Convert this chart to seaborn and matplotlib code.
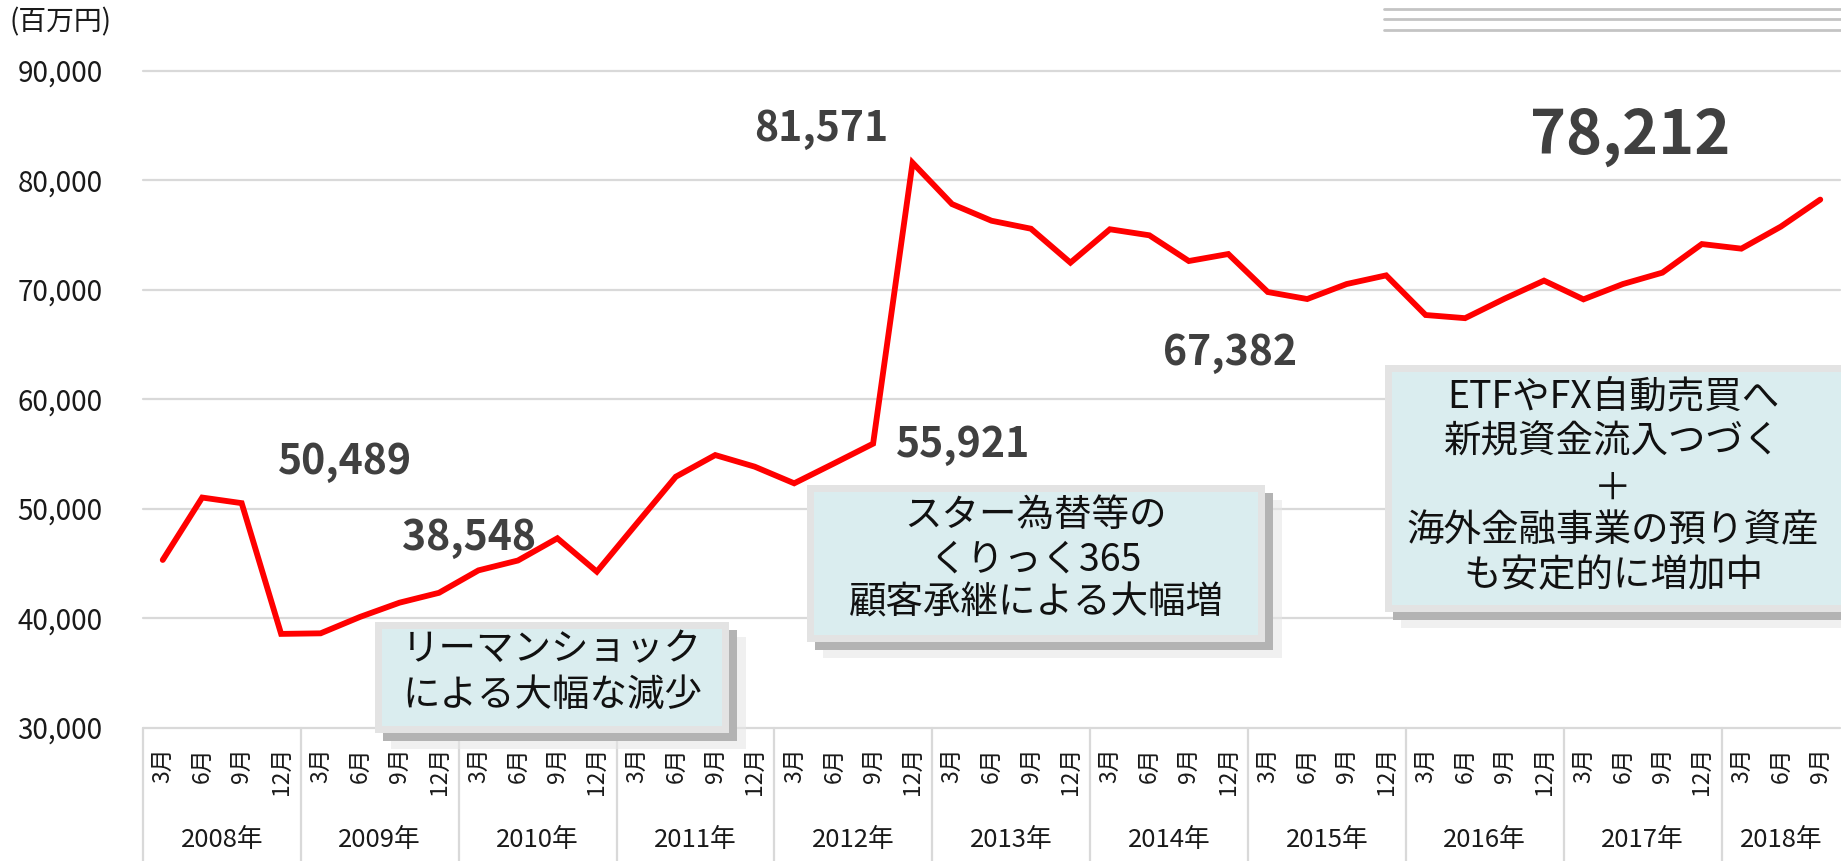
import numpy as np
import pandas as pd
import matplotlib
matplotlib.use("Agg")
import matplotlib.pyplot as plt
import matplotlib.transforms as mtransforms
from matplotlib.patches import Rectangle
from matplotlib.lines import Line2D
import seaborn as sns

# ---------------- data ----------------
years = ["2008年", "2009年", "2010年", "2011年", "2012年", "2013年",
         "2014年", "2015年", "2016年", "2017年", "2018年"]
months_per_year = [4, 4, 4, 4, 4, 4, 4, 4, 4, 4, 3]
month_names = ["3月", "6月", "9月", "12月"]
values = [45300, 51000, 50489, 38548,
          38600, 40100, 41400, 42300,
          44350, 45250, 47280, 44230,
          48580, 52900, 54880, 53820,
          52300, 54100, 55921, 81571,
          77800, 76280, 75550, 72450,
          75500, 74950, 72600, 73240,
          69770, 69130, 70500, 71290,
          67670, 67382, 69160, 70810,
          69100, 70500, 71540, 74150,
          73730, 75740, 78212]
labeled_idx = [2, 3, 18, 19, 33, 42]
y_ticks = [30000, 40000, 50000, 60000, 70000, 80000, 90000]
unit_label = "(百万円)"
notes = [
    ["リーマンショック", "による大幅な減少"],
    ["スター為替等の", "くりっく365", "顧客承継による大幅増"],
    ["ETFやFX自動売買へ", "新規資金流入つづく", "＋", "海外金融事業の預り資産", "も安定的に増加中"],
]

month_labels = []
year_of = []
for y, n in zip(years, months_per_year):
    month_labels += month_names[:n]
    year_of += [y] * n
df = pd.DataFrame({"pos": np.arange(len(values)), "value": values,
                   "month": month_labels, "year": year_of})

# ---------------- figure ----------------
W, H = 1841, 861
sns.set_theme(style="white")
plt.rcParams["font.family"] = ["Noto Sans CJK JP", "DejaVu Sans"]

fig = plt.figure(figsize=(W / 100, H / 100), dpi=100)
fig.patch.set_facecolor("white")

def fx(x):
    return x / W

def fy(y):
    return 1 - y / H

ax_left, ax_right, ax_top, ax_bot = 143, 1840, 70.5, 727.5
ax = fig.add_axes([fx(ax_left), fy(ax_bot), (ax_right - ax_left) / W, (ax_bot - ax_top) / H])
ax.set_facecolor("white")

sns.lineplot(data=df, x="pos", y="value", ax=ax, color="#FF0000",
             linewidth=4.2, solid_joinstyle="miter", zorder=5)

ax.set_xlim(-0.5, len(values) - 0.5)
ax.set_ylim(y_ticks[0], y_ticks[-1])
ax.set_yticks(y_ticks)
ax.set_yticklabels([f"{t:,}" for t in y_ticks], fontsize=20, color="#1a1a1a")
ax.set_xticks(df["pos"])
ax.set_xticklabels(df["month"], rotation=90, fontsize=16.5, color="#1a1a1a")
ax.tick_params(axis="x", length=0, pad=14)
ax.tick_params(axis="y", length=0, pad=29)
ax.set_xlabel("")
ax.set_ylabel("")
for s in ax.spines.values():
    s.set_visible(False)
ax.yaxis.grid(True, color="#D9D9D9", linewidth=1.6)
ax.xaxis.grid(False)
for gl in ax.get_ygridlines():
    gl.set_clip_on(False)

# x-axis category area: separators and year labels
trans = mtransforms.blended_transform_factory(ax.transData, ax.transAxes)
y_bottom_axes = -(H - ax_bot) / (ax_bot - ax_top)
starts = np.cumsum([0] + months_per_year[:-1])
for s in starts:
    ax.plot([s - 0.5, s - 0.5], [0, y_bottom_axes], transform=trans,
            color="#D9D9D9", linewidth=1.6, clip_on=False)
year_y = -(840 - ax_bot) / (ax_bot - ax_top)
for y, s, n in zip(years, starts, months_per_year):
    ax.text(s + (n - 1) / 2, year_y, y, transform=trans, ha="center",
            va="center", fontsize=18.5, color="#1a1a1a")

# data labels
label_offsets = {2: (103, 29, 29.5), 3: (188, 84, 29.5), 18: (90, -13, 29.5),
                 19: (-91, 22, 29.5), 33: (-235, -47, 29.5), 42: (-190, 46, 44)}
for i in labeled_idx:
    dx, dy, fs = label_offsets[i]
    ax.annotate(f"{values[i]:,}", xy=(i, values[i]), xytext=(dx, dy),
                textcoords="offset pixels", ha="center", va="baseline",
                fontsize=fs, fontweight="bold", color="#404040", zorder=6)

# unit label
fig.text(fx(9), fy(22), unit_label, ha="left", va="center", fontsize=20, color="#1a1a1a")

# decorative lines top right
for yy in [8.5, 19, 30]:
    fig.add_artist(Line2D([fx(1384), fx(1841)], [fy(yy), fy(yy)],
                          color="#C4C4C4", linewidth=2))

# annotation boxes
def draw_box(x0, y0, x1, y1):
    def rect(a0, b0, a1, b1, color, alpha=1.0, z=2):
        fig.add_artist(Rectangle((fx(a0), fy(b1)), (a1 - a0) / W, (b1 - b0) / H,
                                 transform=fig.transFigure, facecolor=color,
                                 edgecolor="none", alpha=alpha, zorder=z))
    rect(x0 + 16, y0 + 15, x1 + 17, y1 + 16, "#E6E6E6", 0.6, 2)
    rect(x0 + 8, y0 + 8, x1 + 8, y1 + 8, "#B3B3B3", 1.0, 3)
    rect(x0, y0, x1, y1, "#E3E3E3", 1.0, 4)
    rect(x0 + 7, y0 + 7, x1 - 7, y1 - 7, "#DAEDEF", 1.0, 5)

boxes = [(375, 622, 729, 733), (807, 485, 1265, 642), (1385, 365, 1850, 612)]
line_centers = [(552, [650, 695]),
                (1036, [515, 560, 603]),
                (1613, [397, 442, 489, 531, 576])]
for (bx, (cx, ys), lines) in zip(boxes, line_centers, notes):
    draw_box(*bx)
    for txt, yy in zip(lines, ys):
        fig.text(fx(cx), fy(yy), txt, ha="center", va="center", fontsize=27,
                 color="#111111", zorder=6)

fig.savefig("out.png", dpi=100, facecolor="white")
